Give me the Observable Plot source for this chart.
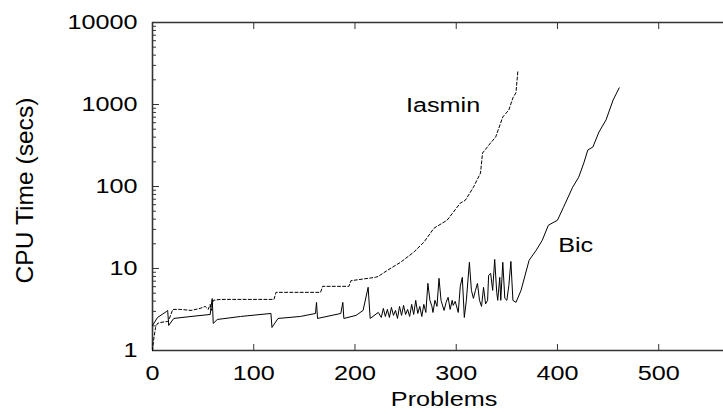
<!DOCTYPE html>
<html><head><meta charset="utf-8">
<script src="https://cdn.jsdelivr.net/npm/d3@7"></script>
<script src="https://cdn.jsdelivr.net/npm/@observablehq/plot@0.6"></script>
<style>body{margin:0;background:#fff;} svg{display:block}</style>
</head><body><div id="chart"></div>
<script>
// Iasmin (dashed)
const iasminProblems = [0,1,3,5,8,15,16,20,28,38, 47,52,55,57,58,60,67,120,122,166, 168,194,196,220,223,232,245,258,268,278, 291,304,309,317,324,326,334,339,346,352, 356,359,361];
const iasminTimes = [1,1.32,1.91,2.14,2.2,2.26,2.33,3.17,3.17,3.08, 3.26,3.45,3.17,3.65,3.08,4.09,4.2,4.2,5.12,5.12, 6.06,6.06,7.1,7.8,8.0,9.5,11.9,15.8,20.9,31, 38.8,62.7,68,98,146,256,340,402,705,859, 1204,1387,2649];
// Bic (solid)
const bicProblems = [
 0, 5, 14, 15, 16, 21, 38, 57, 58, 59, 60, 64, 87, 117, 118, 124, 146, 161, 162, 163, 186, 188, 189, 201, 208, 213, 215, 223,
 226, 228, 230, 232, 234, 236, 238, 240, 242, 244, 246, 248, 250, 252, 254, 256, 258, 260, 262, 264, 266, 268, 270, 272, 274, 276,
 277, 279, 281, 283, 285, 288, 290, 292, 294, 296, 297, 299, 302, 304, 306, 308, 310, 313, 315, 317, 319, 321, 323, 325, 327, 329,
 331, 332, 334, 336, 338, 340, 341, 343, 344, 346, 348, 350, 352, 354, 356, 359,
 364, 372, 379, 385, 391, 400, 406, 415, 421, 426, 430, 435, 441, 448, 455, 461];
const bicTimes = [
 2.02, 2.53, 3.0, 3.08, 2.02, 2.46, 2.6, 2.75, 3.55, 4.3, 2.14, 2.39, 2.6, 2.83, 1.91, 2.46, 2.6, 2.83, 3.86, 2.46, 2.83, 3.86, 2.46, 2.68, 3.08, 5.9, 2.46, 2.91,
 2.53, 3.26, 2.6, 3.17, 2.53, 3.35, 2.68, 3.08, 2.46, 3.45, 2.68, 3.55, 2.75, 3.17, 2.6, 3.65, 2.75, 4.09, 2.83, 3.45, 2.6, 3.65, 2.91, 6.59, 4.09, 3.45,
 2.91, 4.09, 3.45, 7.59, 4.09, 3.08, 3.86, 4.45, 3.17, 4.09, 3.55, 3.97, 2.91, 6.06, 7.8, 2.53, 4.09, 11.9, 5.41, 4.32, 5.41, 6.59, 4.09, 3.45, 5.89, 3.7,
 4.09, 8.26, 8.73, 5.41, 12.9, 5.12, 4.09, 7.8, 4.09, 11.9, 4.32, 4.09, 6.23, 12.2, 4.09, 3.86,
 5.41, 12.6, 16.7, 22.1, 33.7, 38.8, 56, 98, 130, 193, 279, 303, 462, 649, 1138, 1596];

const xTicks = [0, 100, 200, 300, 400, 500];
const xTickLabels = ["0", "100", "200", "300", "400", "500"];
const yTicks = [1, 10, 100, 1000, 10000];
const yTickLabels = ["1", "10", "100", "1000", "10000"];
const yMinorTicks = [2,3,4,5,6,7,8,9,20,30,40,50,60,70,80,90,200,300,400,500,600,700,800,900,2000,3000,4000,5000,6000,7000,8000,9000];
const seriesNames = ["Iasmin", "Bic"];
const xTitle = "Problems";
const yTitle = "CPU Time (secs)";

const iasmin = iasminProblems.map((p, i) => ({p, t: iasminTimes[i]}));
const bic = bicProblems.map((p, i) => ({p, t: bicTimes[i]}));
const axisColor = "#333";

const chart = Plot.plot({
  width: 723, height: 414,
  marginLeft: 152, marginRight: 0, marginTop: 22, marginBottom: 64,
  style: {fontFamily: "'Liberation Sans', Arial, Helvetica, sans-serif", fontSize: "21px", background: "white", color: "black", overflow: "visible"},
  x: {domain: [0, 564], label: null},
  y: {type: "log", domain: [1, 10000], label: null},
  marks: [
    Plot.ruleY([1], {stroke: axisColor, strokeWidth: 1.6}),
    Plot.ruleY([10000], {stroke: axisColor, strokeWidth: 1.6}),
    Plot.ruleX([0], {stroke: axisColor, strokeWidth: 1.6}),
    Plot.axisX({ticks: xTicks.slice(1), anchor: "bottom", tickSize: -6, fill: "none", stroke: axisColor, label: null}),
    Plot.axisX({ticks: xTicks.slice(1), anchor: "top", tickSize: -6, fill: "none", stroke: axisColor, label: null}),
    Plot.axisY({ticks: yTicks, anchor: "left", tickSize: -7, fill: "none", stroke: axisColor, label: null}),
    Plot.axisY({ticks: yMinorTicks, anchor: "left", tickSize: -4, fill: "none", stroke: axisColor, label: null}),
    Plot.axisX({ticks: xTicks, anchor: "bottom", tickSize: 0, tickPadding: 15, label: null, fill: "black", fontSize: 21,
      tickFormat: d => xTickLabels[xTicks.indexOf(d)]}),
    Plot.axisY({ticks: yTicks, anchor: "left", tickSize: 0, tickPadding: 15, label: null, fill: "black", fontSize: 21,
      tickFormat: d => yTickLabels[yTicks.indexOf(d)]}),
    Plot.line(iasmin, {x: "p", y: "t", stroke: "black", strokeWidth: 1, strokeDasharray: "3,2.2"}),
    Plot.line(bic, {x: "p", y: "t", stroke: "black", strokeWidth: 1}),
    Plot.text([{name: seriesNames[0], p: 287, t: 990}, {name: seriesNames[1], p: 418, t: 19.2}],
      {x: "p", y: "t", text: "name", fontSize: 21}),
    Plot.text([{name: xTitle, p: 288}], {x: "p", text: "name", frameAnchor: "bottom", lineAnchor: "middle", textAnchor: "middle", dy: 49, fontSize: 21}),
    Plot.text([yTitle], {text: d => d, frameAnchor: "left", textAnchor: "middle", lineAnchor: "middle", dx: -127, dy: 4, rotate: -90, fontSize: 23})
  ]
});

document.getElementById("chart").appendChild(chart);

// The reference typography is horizontally widened: wrap each text in a scaling group anchored at its text anchor.
const svgNS = "http://www.w3.org/2000/svg";
chart.querySelectorAll("text").forEach(t => {
  const r = t.getBoundingClientRect();
  if (!r.width) return;
  const isYTitle = t.textContent === yTitle;
  const anchor = getComputedStyle(t).textAnchor;
  let ax = (r.left + r.right) / 2, ay = (r.top + r.bottom) / 2;
  if (!isYTitle) {
    if (anchor === "end") ax = r.right;
    else if (anchor === "start") ax = r.left;
  }
  const m = t.parentNode.getScreenCTM();
  let p = chart.createSVGPoint(); p.x = ax; p.y = ay;
  p = p.matrixTransform(m.inverse());
  const sx = isYTitle ? 1 : 1.2, sy = isYTitle ? 1.07 : 1;
  const g = document.createElementNS(svgNS, "g");
  g.setAttribute("transform", `translate(${p.x},${p.y}) scale(${sx},${sy}) translate(${-p.x},${-p.y})`);
  t.parentNode.insertBefore(g, t);
  g.appendChild(t);
});
</script>
</body></html>
